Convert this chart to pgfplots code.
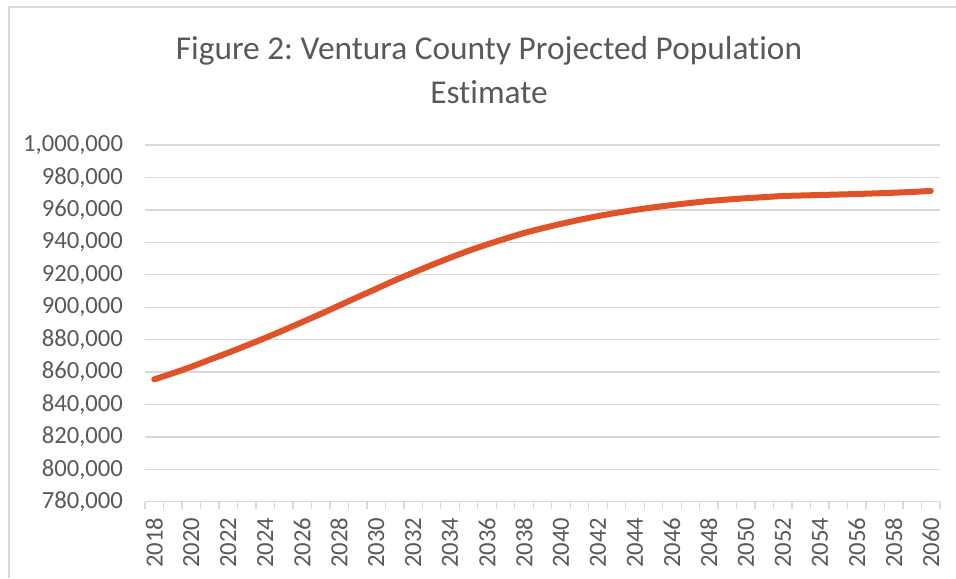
\documentclass[border=0pt]{standalone}
\usepackage{fontspec}
\setmainfont{Carlito}[RawFeature={-liga,-clig,-dlig}]
\usepackage{pgfplots}
\pgfplotsset{compat=1.18}
\definecolor{lineor}{HTML}{E05228}
\definecolor{gridg}{HTML}{D9D9D9}
\definecolor{txtg}{HTML}{595959}
\frenchspacing
\begin{document}
\begin{tikzpicture}[x=0.75pt,y=0.75pt]
\useasboundingbox (0,0) rectangle (956,578);
\draw[gridg,line width=1.2pt] (9,0) -- (9,571) -- (956,571);
\node[txtg,align=center,font=\fontsize{25}{33}\selectfont] at (489,508) {Figure 2: Ventura County Projected Population\\Estimate};
\begin{axis}[
  at={(108.75pt,57.2pt)}, anchor=south west,
  scale only axis, width=596.25pt, height=267.5pt,
  xmin=2017.5, xmax=2060.5, ymin=780000, ymax=1000000,
  ytick={780000,800000,...,1000000},
  xtick={2018,2020,...,2060},
  minor xtick={2017.5,2018.5,...,2060.5},
  scaled y ticks=false,
  axis y line*=left, axis x line*=bottom,
  y axis line style={draw=none},
  x axis line style={gridg,line width=1pt,-},
  ymajorgrids, major grid style={gridg,line width=1pt},
  major tick length=0pt, minor tick length=5.5pt,
  tick align=outside,
  minor tick style={gridg,line width=1pt},
  tick label style={txtg,font=\fontsize{18.5}{21}\selectfont},
  /pgf/number format/assume math mode=true,
  x tick label style={/pgf/number format/1000 sep={},rotate=90,anchor=east,xshift=-8.5pt},
  y tick label style={/pgf/number format/1000 sep={,},/pgf/number format/fixed},
  yticklabel style={anchor=east,xshift=-13pt},
  clip=false,
]
\addplot[lineor,line width=4.5pt,line cap=round,line join=round] coordinates {
(2018,855500)(2019,859200)(2020,863200)(2021,867600)(2022,871900)(2023,876400)
(2024,881000)(2025,885800)(2026,890800)(2027,895800)(2028,901000)(2029,906200)
(2030,911300)(2031,916500)(2032,921300)(2033,926000)(2034,930500)(2035,934800)
(2036,938700)(2037,942300)(2038,945800)(2039,948700)(2040,951400)(2041,953900)
(2042,956200)(2043,958200)(2044,960000)(2045,961600)(2046,963000)(2047,964300)
(2048,965500)(2049,966400)(2050,967200)(2051,967900)(2052,968600)(2053,968900)
(2054,969200)(2055,969500)(2056,969800)(2057,970200)(2058,970600)(2059,971100)
(2060,971700)};
\end{axis}
\end{tikzpicture}
\end{document}
